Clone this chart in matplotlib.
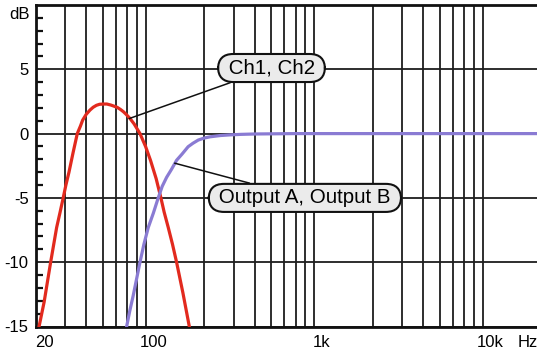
import matplotlib
matplotlib.use('Agg')
import matplotlib.pyplot as plt
from matplotlib import transforms

plt.rcParams['font.family'] = ['Liberation Sans', 'DejaVu Sans']

# red curve (Ch1, Ch2)
ch_freq = [20.0, 21.0, 22.5, 24.6, 26.7, 28.0, 29.2, 30.3, 31.6, 33.4, 35.4,
           37.0, 38.1, 40.0, 42.1, 44.0, 46.0, 48.0, 50.9, 53.0, 56.0, 58.0,
           61.1, 64.0, 66.5, 69.0, 72.7, 77.0, 83.4, 90.0, 96.4, 104, 111,
           116, 122.7, 130, 137.5, 150, 163.6, 170]
ch_db = [-15.8, -15.0, -13.1, -10.0, -7.3, -6.1, -5.0, -4.0, -3.0, -1.5, 0.0,
         0.6, 1.05, 1.5, 1.83, 2.05, 2.2, 2.28, 2.3, 2.3, 2.22, 2.15,
         2.04, 1.87, 1.7, 1.5, 1.18, 0.75, 0.0, -1.0, -2.1, -3.5, -5.0,
         -6.1, -7.3, -8.6, -10.0, -12.4, -15.0, -16.2]

# purple curve (Output A, Output B)
out_freq = [68, 69.5, 72.5, 76, 83.4, 88, 93.4, 100, 107, 113, 120, 128,
            137.6, 148, 161, 172, 185, 200, 217, 250, 285, 330, 400, 700,
            20000]
out_db = [-16, -15, -13.8, -12.6, -10, -8.6, -7.3, -6.2, -5.0, -4.1, -3.4,
          -2.8, -2.07, -1.6, -1.02, -0.75, -0.5, -0.35, -0.25, -0.15, -0.1,
          -0.06, -0.03, 0, 0]

grid_freqs = [30, 40, 50, 60, 70, 80, 90, 100, 200, 300, 400, 500, 600, 700,
              800, 900, 1000, 2000, 3000, 4000, 5000, 6000, 7000, 8000, 9000,
              10000]
x_ticks = [20, 100, 1000, 10000, 16750]
x_labels = ['20', '100', '1k', '10k', 'Hz']
y_ticks = [-15, -10, -5, 0, 5]
y_labels = ['-15', '-10', '-5', '0', '5']

fig = plt.figure(figsize=(5.37, 3.52), dpi=100)
fig.set_facecolor('white')
ax = fig.add_axes([35.5 / 537, 1 - 326.5 / 352, (541 - 35.5) / 537, 321.5 / 352])

ax.set_xscale('log')
ax.set_xlim(20, 20000)
ax.set_ylim(-15, 10)

ax.plot(ch_freq, ch_db, color='#E22A1E', lw=2.3, zorder=3)
ax.plot(out_freq, out_db, color='#8A7BD3', lw=2.3, zorder=3)

ax.set_xticks(x_ticks)
ax.set_xticklabels(x_labels)
ax.set_xticks(grid_freqs, minor=True)
ax.xaxis.set_minor_formatter(matplotlib.ticker.NullFormatter())
ax.tick_params(axis='x', which='both', length=0, pad=6, labelsize=12)
ax.get_xticklabels()[0].set_ha('left')
ax.xaxis.grid(True, which='minor', color='#1e1e1e', lw=1.3)

ax.set_yticks(y_ticks)
ax.set_yticklabels(y_labels)
ax.set_yticks(list(range(-14, 10)), minor=True)
ax.tick_params(axis='y', which='major', length=0, pad=5, labelsize=12)
ax.tick_params(axis='y', which='minor', direction='in', length=5, width=1.6,
               color='#111111')
ax.yaxis.grid(True, which='major', color='#1e1e1e', lw=1.3)
ax.set_axisbelow(True)

trans = transforms.blended_transform_factory(ax.transAxes, ax.transData)
ax.text(-0.012, 9.3, 'dB', transform=trans, ha='right', va='center', fontsize=12)

for side in ['left', 'top', 'bottom']:
    ax.spines[side].set_linewidth(2)
    ax.spines[side].set_color('#111111')
ax.spines['right'].set_visible(False)

box = dict(boxstyle='round,pad=0.22,rounding_size=0.74', fc='#EBEBEB',
           ec='#111111', lw=1.5)
arrow = dict(arrowstyle='-', color='#111111', lw=1.1, shrinkA=0, shrinkB=0)
ax.annotate(' Ch1, Ch2 ', xy=(72, 1.17), xytext=(503, 5.1), fontsize=14.8,
            ha='center', va='center', bbox=box, arrowprops=arrow, zorder=5)
ax.annotate(' Output A, Output B ', xy=(134, -2.3), xytext=(794, -5.0),
            fontsize=14.8, ha='center', va='center', bbox=box,
            arrowprops=arrow, zorder=5)

fig.savefig('out.png', dpi=100)
